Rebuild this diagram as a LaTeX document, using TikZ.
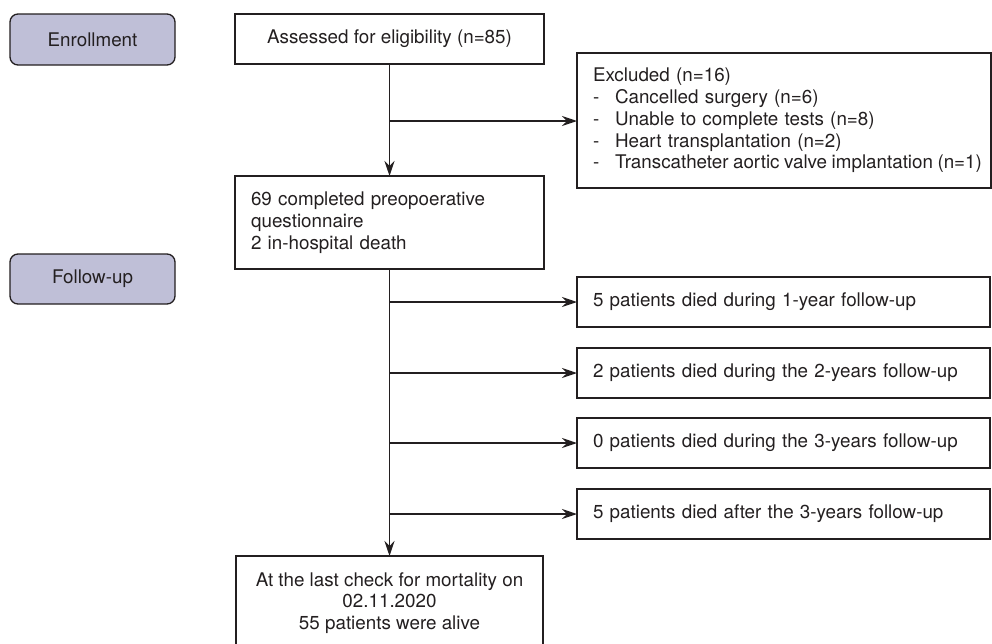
\documentclass[tikz,border=0pt]{standalone}
\usepackage{fontspec}
\setmainfont{TeX Gyre Heros}
\usetikzlibrary{arrows.meta}
\definecolor{ink}{RGB}{35,31,32}
\definecolor{lav}{RGB}{191,191,215}
\tikzset{
  base/.style={draw=ink, line width=1.3pt, text=ink, font=\fontsize{18.8}{21.7}\selectfont,
    inner xsep=16pt, inner ysep=0pt, outer sep=0pt},
  phase/.style={base, fill=lav, rounded corners=8pt, minimum width=165pt, minimum height=51pt, align=center, inner xsep=0pt},
  cbox/.style={base, align=center},
  lbox/.style={base, align=left},
  arr/.style={draw=ink, line width=1.3pt, -{Stealth[length=15pt, width=10pt, inset=5pt]}},
  conn/.style={draw=ink, line width=1.3pt}
}
\newcommand{\itemdash}{\makebox[22pt][l]{-}}
\begin{document}
\begin{tikzpicture}[x=1pt, y=-1pt]
\clip (0,0) rectangle (992,643);
\useasboundingbox (0,0) rectangle (992,643);

\node[phase] (enr) at (92.5,39.5) {Enrollment};
\node[phase, minimum height=50pt] (fol) at (92.5,279) {Follow-up};

\node[cbox, minimum width=309pt, minimum height=50pt] (ass) at (389.5,39) {Assessed for eligibility (n=85)};

\node[lbox, inner xsep=4pt, text width=406pt, minimum height=135pt] (excl) at (784,120.5) {\hspace*{12pt}Excluded (n=16)\\
\hspace*{12pt}\itemdash Cancelled surgery (n=6)\\
\hspace*{12pt}\itemdash Unable to complete tests (n=8)\\
\hspace*{12pt}\itemdash Heart transplantation (n=2)\\
\hspace*{12pt}\mbox{\itemdash\spaceskip=0.85\fontdimen2\font Transcatheter aortic valve implantation (n=1)}};

\node[lbox, text width=277pt, minimum height=93pt] (q69) at (389.5,222.5) {69 completed preopoerative\\questionnaire\\2 in-hospital death};

\node[lbox, text width=381pt, minimum height=50pt] (f1) at (783.5,302) {5 patients died during 1-year follow-up};
\node[lbox, text width=381pt, minimum height=50pt] (f2) at (783.5,373) {2 patients died during the 2-years follow-up};
\node[lbox, text width=381pt, minimum height=50pt] (f3) at (783.5,443) {0 patients died during the 3-years follow-up};
\node[lbox, text width=381pt, minimum height=50pt] (f4) at (783.5,514) {5 patients died after the 3-years follow-up};

\node[cbox, minimum width=307pt, minimum height=94pt] (fin) at (389.5,603) {At the last check for mortality on\\02.11.2020\\55 patients were alive};

\draw[arr] (ass.south) -- (q69.north);
\coordinate (j0) at (389.5,121);
\draw[arr] (j0) -- (j0 -| excl.west);

\draw[arr] (q69.south) -- (fin.north);
\draw[arr] (f1.west -| q69.south) -- (f1.west);
\draw[arr] (f2.west -| q69.south) -- (f2.west);
\draw[arr] (f3.west -| q69.south) -- (f3.west);
\draw[arr] (f4.west -| q69.south) -- (f4.west);
\end{tikzpicture}
\end{document}
